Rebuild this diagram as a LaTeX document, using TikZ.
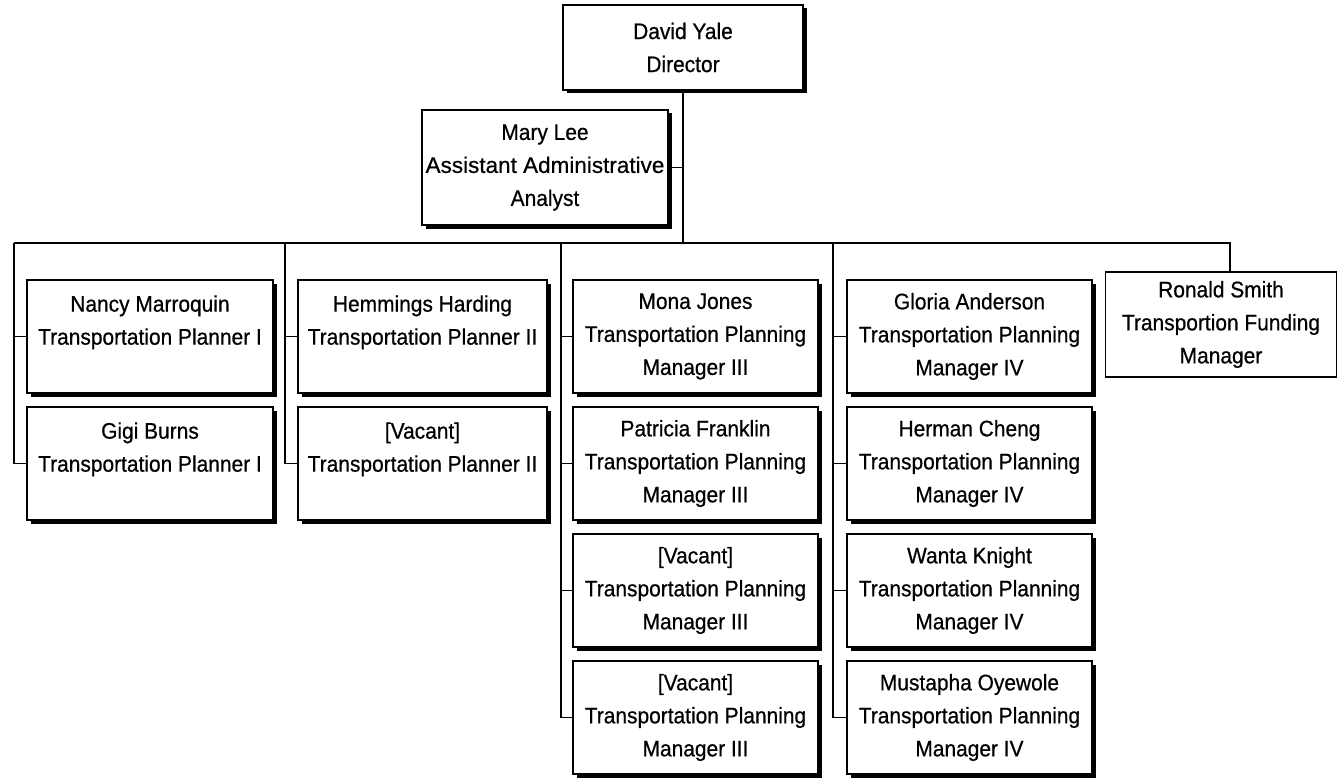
\documentclass[tikz,border=0pt]{standalone}
\usepackage{fontspec}
\setmainfont{Liberation Sans}[FakeStretch=0.93, FakeBold=0.6]
\newfontfamily\widefont{Liberation Sans}[FakeStretch=1.0, FakeBold=0.6]
\usetikzlibrary{positioning,shadows}
\tikzset{org box/.style={draw=black, line width=1.8pt, fill=white, inner sep=0pt, align=center,
		font=\fontsize{22.5}{33}\selectfont,
		drop shadow={shadow xshift=3.5pt, shadow yshift=-3.5pt, fill=black, opacity=1}}}
\tikzset{staff box/.style={org box, minimum width=#1, minimum height=113}}
\tikzset{plain box/.style={draw=black, line width=1.3pt, fill=white, inner sep=0pt, align=center,
		font=\fontsize{22.5}{33}\selectfont}}
\tikzset{link/.style={line width=1.4pt}}

\begin{document}
\begin{tikzpicture}[x=1pt, y=-1pt, semithick]
	\useasboundingbox (0,0) rectangle (1338,778);
	\node[org box, minimum width=240, minimum height=85] at (683,47.5) (dy) {David Yale\\Director};
	\node[org box, minimum width=246, minimum height=115] at (545,167.5) (ml) {Mary Lee\\{\widefont Assistant Administrative}\\Analyst};
	% bar and column heads
	\coordinate (bar) at (683,243);
	\coordinate (c1) at (14,243);
	\coordinate (c2) at (285,243);
	\coordinate (c3) at (561,243);
	\coordinate (c4) at (833,243);
	\coordinate (c5) at (1230,243);
	\node[staff box=246] at (150,336.5) (nm) {Nancy Marroquin\\Transportation Planner I\\~};
	\node[staff box=246] at (150,463.5) (gb) {Gigi Burns\\Transportation Planner I\\~};
	\node[staff box=249] at (422.5,336.5) (hh) {Hemmings Harding\\Transportation Planner II\\~};
	\node[staff box=249] at (422.5,463.5) (vtwo) {[Vacant]\\Transportation Planner II\\~};
	\node[staff box=245] at (695.5,336.5) (mj) {Mona Jones\\Transportation Planning\\Manager III};
	\node[staff box=245] at (695.5,463.5) (pf) {Patricia Franklin\\Transportation Planning\\Manager III};
	\node[staff box=245] at (695.5,590.5) (vthreea) {[Vacant]\\Transportation Planning\\Manager III};
	\node[staff box=245] at (695.5,717.5) (vthreeb) {[Vacant]\\Transportation Planning\\Manager III};
	\node[staff box=245] at (969.5,336.5) (ga) {Gloria Anderson\\Transportation Planning\\Manager IV};
	\node[staff box=245] at (969.5,463.5) (hc) {Herman Cheng\\Transportation Planning\\Manager IV};
	\node[staff box=245] at (969.5,590.5) (wk) {Wanta Knight\\Transportation Planning\\Manager IV};
	\node[staff box=245] at (969.5,717.5) (mo) {Mustapha Oyewole\\Transportation Planning\\Manager IV};
	\node[plain box, minimum width=231, minimum height=105] at (1221,324.5) (rs) {Ronald Smith\\Transportion Funding\\Manager};
	% connectors
	\draw[link] (dy.south) -- (bar);
	\draw[link] (ml.east) -- (ml.east -| bar);
	\draw[link] (c1) -- (c5) -- (rs.north -| c5);
	\draw[link] (c1) |- (gb.west);
	\draw[link] (nm.west -| c1) -- (nm.west);
	\draw[link] (c2) |- (vtwo.west);
	\draw[link] (hh.west -| c2) -- (hh.west);
	\draw[link] (c3) |- (vthreeb.west);
	\draw[link] (mj.west -| c3) -- (mj.west);
	\draw[link] (pf.west -| c3) -- (pf.west);
	\draw[link] (vthreea.west -| c3) -- (vthreea.west);
	\draw[link] (c4) |- (mo.west);
	\draw[link] (ga.west -| c4) -- (ga.west);
	\draw[link] (hc.west -| c4) -- (hc.west);
	\draw[link] (wk.west -| c4) -- (wk.west);
\end{tikzpicture}
\end{document}
